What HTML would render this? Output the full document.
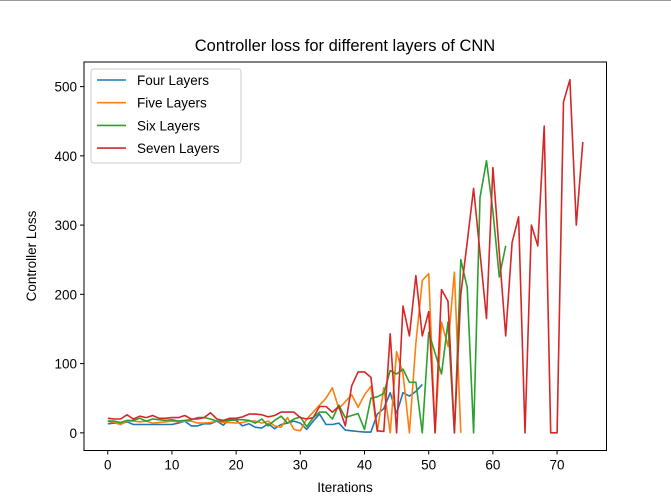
<!DOCTYPE html>
<html><head><meta charset="utf-8"><style>
body{margin:0;background:#fff;width:671px;height:501px;overflow:hidden}
svg{display:block;font-family:"Liberation Sans","DejaVu Sans",sans-serif}
</style></head><body>
<svg id="chart" width="671" height="501">
<line x1="0" y1="0.5" x2="671" y2="0.5" stroke="#999" stroke-width="1"/>
<text x="345" y="51" text-anchor="middle" font-size="16.5" fill="#000">Controller loss for different layers of CNN</text>
<text x="345" y="492" text-anchor="middle" font-size="13.5" fill="#000">Iterations</text>
<text transform="translate(36,256) rotate(-90)" text-anchor="middle" font-size="13.5" fill="#000">Controller Loss</text>
<g id="plot"></g>
<rect x="84" y="62" width="522.5" height="388.5" fill="none" stroke="#000" stroke-width="1"/>
<g id="legend"></g>
</svg>
<script>
const xTicks=[0,10,20,30,40,50,60,70];
const yTicks=[0,100,200,300,400,500];
const seriesNames=["Four Layers","Five Layers","Six Layers","Seven Layers"];
const seriesColors=["#1f77b4","#ff7f0e","#2ca02c","#d62728"];
const fourLayers=[13,14,13,16,12,12,12,12,12,12,12,14,17,10,10,13,13,17,11,20,18,10,13,8,7,13,6,12,14,17,14,5,17,27,12,12,14,4,3,2,1,1,27,35,58,28,58,53,60,70];
const fiveLayers=[17,15,12,17,17,16,17,14,15,16,17,16,17,17,14,14,15,17,15,15,14,15,17,17,14,17,10,8,22,5,3,20,30,40,50,65,35,45,55,37,55,67,2,65,0,117,85,0,130,220,230,0,160,125,232,0];
const sixLayers=[17,17,15,18,18,21,17,20,19,18,19,17,18,19,22,22,20,17,17,18,19,19,18,14,20,10,18,24,14,20,23,9,22,30,30,20,40,22,25,28,5,50,52,57,90,85,92,73,73,0,145,115,85,160,0,250,210,0,340,393,320,225,270];
const sevenLayers=[21,20,20,26,20,24,22,25,21,21,22,22,25,20,20,22,29,20,18,21,21,23,27,27,26,23,25,30,30,30,22,20,22,38,38,30,38,10,68,88,88,80,3,2,143,0,183,140,227,140,175,0,207,190,0,200,275,353,260,165,383,260,140,275,312,0,300,270,443,0,0,478,510,300,420];
const allSeries=[fourLayers,fiveLayers,sixLayers,sevenLayers];
const NS="http://www.w3.org/2000/svg";
const X0=84,X1=606.5,Y0=62,Y1=450.5;
const xmin=-3.7,xmax=77.7,ymin=-25.5,ymax=535.5;
function xs(v){return X0+(v-xmin)/(xmax-xmin)*(X1-X0);}
function ys(v){return Y1-(v-ymin)/(ymax-ymin)*(Y1-Y0);}
function mk(t,a){const e=document.createElementNS(NS,t);for(const k in a)e.setAttribute(k,a[k]);return e;}
const plot=document.getElementById('plot');
xTicks.forEach(v=>{
  const l=mk('line',{x1:xs(v),x2:xs(v),y1:Y1,y2:Y1+4,stroke:'#000','stroke-width':1});
  
  
  plot.appendChild(l);
  const t=mk('text',{x:xs(v),y:Y1+19,'text-anchor':'middle','font-size':13.5,fill:'#000'});
  t.textContent=v;
  
  
  plot.appendChild(t);
});
yTicks.forEach(v=>{
  const l=mk('line',{x1:X0-4,x2:X0,y1:ys(v),y2:ys(v),stroke:'#000','stroke-width':1});
  
  
  plot.appendChild(l);
  const t=mk('text',{x:X0-7,y:ys(v)+5,'text-anchor':'end','font-size':13.5,fill:'#000'});
  t.textContent=v;
  
  
  plot.appendChild(t);
});
allSeries.forEach((s,i)=>{
  const pts=s.map((v,j)=>xs(j).toFixed(1)+','+ys(v).toFixed(1)).join(' ');
  const p=mk('polyline',{points:pts,fill:'none',stroke:seriesColors[i],'stroke-width':1.6,'stroke-linejoin':'round'});
  
  
  plot.appendChild(p);
});
const lg=document.getElementById('legend');
const box=mk('rect',{x:91,y:69,width:150,height:94,rx:2.5,fill:'#fff','fill-opacity':0.8,stroke:'#ccc','stroke-width':1});


lg.appendChild(box);
seriesNames.forEach((n,i)=>{
  const y=80+i*22.7;
  const l=mk('line',{x1:97,x2:126,y1:y,y2:y,stroke:seriesColors[i],'stroke-width':1.6});
  
  
  lg.appendChild(l);
  const t=mk('text',{x:137,y:y+5,'font-size':13.5,fill:'#000'});
  t.textContent=n;
  
  
  lg.appendChild(t);
});
</script>
</body></html>
